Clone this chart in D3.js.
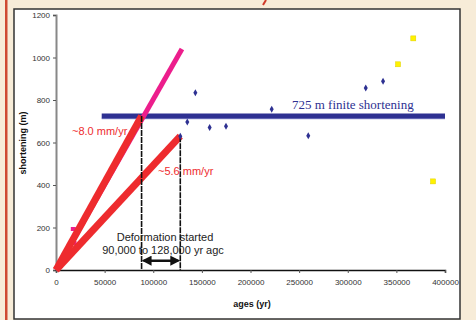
<!DOCTYPE html>
<html>
<head>
<meta charset="utf-8">
<script src="https://cdn.jsdelivr.net/npm/d3@7"></script>
<style>
body{margin:0;background:#f7ecd8;}
svg{display:block;font-family:Arial,"Liberation Sans",sans-serif;}
</style>
</head>
<body>
<script>
//sample data
var blueAges=[127800,135000,143300,158000,174800,221800,259400,318500,336300],
	blueShort=[629,696,834,671,676,756,632,856,888];
var yellowAges=[351700,367400,387700],
	yellowShort=[968,1090,417];
var pinkAges=[17800,18500],
	pinkShort=[193,127];

//rate lines [age, shortening] end points, all start at origin
var rateLines=[
	{name:"pink",end:[129500,1040],color:"#ec1e8c",width:5},
	{name:"~8.0 mm/yr",end:[88000,725],color:"#ee2b2e",width:7},
	{name:"~5.6 mm/yr",end:[127800,630],color:"#ee2b2e",width:7}
];
var finite=725,
	finiteRange=[47000,400000];
var startAges=[88000,127800];

var xTicks=[0,50000,100000,150000,200000,250000,300000,350000,400000],
	yTicks=[0,200,400,600,800,1000,1200];

var width=476,height=320;

var svg=d3.select("body").append("svg")
	.attr("width",width)
	.attr("height",height);

//page decoration
svg.append("rect").attr("width",width).attr("height",height).attr("fill","#f7ecd8");
svg.append("rect").attr("x",5).attr("y",0).attr("width",2.5).attr("height",height).attr("fill","#cf4a32");
svg.append("line").attr("x1",263).attr("y1",5).attr("x2",266).attr("y2",0)
	.attr("stroke","#cf3a2a").attr("stroke-width",2);

//chart frame
svg.append("rect").attr("x",14).attr("y",9).attr("width",446).attr("height",310)
	.attr("fill","#fff").attr("stroke","#333").attr("stroke-width",1.5);

var x=d3.scaleLinear().domain([0,400000]).range([56,445]);
var y=d3.scaleLinear().domain([0,1200]).range([270,15]);

//y axis
var yAxis=svg.append("g").attr("transform","translate(56,0)")
	.call(d3.axisLeft(y).tickValues(yTicks).tickFormat(d3.format("d")).tickSize(3).tickPadding(3));
yAxis.select(".domain").attr("stroke","#888").attr("stroke-width",2);
yAxis.selectAll(".tick line").attr("stroke","#555");
yAxis.selectAll("text").attr("font-size",8).attr("fill","#333");

//x axis
var xAxis=svg.append("g").attr("transform","translate(0,270)")
	.call(d3.axisBottom(x).tickValues(xTicks).tickFormat(d3.format("d")).tickSize(3).tickPadding(6));
xAxis.select(".domain").attr("stroke","#111").attr("stroke-width",1.5);
xAxis.selectAll(".tick line").attr("stroke","#555");
xAxis.selectAll("text").attr("font-size",8).attr("fill","#333");

//axis titles
svg.append("text").attr("x",252).attr("y",307).attr("text-anchor","middle")
	.attr("font-size",9).attr("font-weight","bold").attr("fill","#111").text("ages (yr)");
svg.append("text").attr("transform","translate(26,143)rotate(-90)").attr("text-anchor","middle")
	.attr("font-size",9).attr("font-weight","bold").attr("fill","#111").text("shortening (m)");

//finite shortening bar
svg.append("line").attr("x1",x(finiteRange[0])).attr("x2",x(finiteRange[1]))
	.attr("y1",y(finite)+2.5).attr("y2",y(finite)+2.5)
	.attr("stroke","#9499d4").attr("stroke-width",1.5);
svg.append("line").attr("x1",x(finiteRange[0])).attr("x2",x(finiteRange[1]))
	.attr("y1",y(finite)).attr("y2",y(finite))
	.attr("stroke","#2e3192").attr("stroke-width",5);
svg.append("text").attr("x",292).attr("y",y(finite)-7)
	.attr("font-family","'Liberation Serif','Times New Roman',serif")
	.attr("font-size",13).attr("fill","#2e3192").text("725 m finite shortening");

//pink points (behind the rate lines)
svg.selectAll(".pink").data(pinkAges).enter().append("rect")
	.attr("class","pink")
	.attr("x",function(d){return x(d)-2.5;})
	.attr("y",function(d,i){return y(pinkShort[i])-2;})
	.attr("width",5).attr("height",4).attr("fill","#ec1e8c");

//rate lines
svg.selectAll(".rate").data(rateLines).enter().append("line")
	.attr("class","rate")
	.attr("x1",x(0)).attr("y1",y(0))
	.attr("x2",function(d){return x(d.end[0]);})
	.attr("y2",function(d){return y(d.end[1]);})
	.attr("stroke",function(d){return d.color;})
	.attr("stroke-width",function(d){return d.width;});

//start of deformation markers
svg.selectAll(".start").data(startAges).enter().append("line")
	.attr("class","start")
	.attr("x1",function(d){return x(d);}).attr("x2",function(d){return x(d);})
	.attr("y1",function(d,i){return y(rateLines[i+1].end[1]);}).attr("y2",y(0))
	.attr("stroke","#111").attr("stroke-width",1.6).attr("stroke-dasharray","6,1");

//double arrow
var defs=svg.append("defs");
defs.append("marker").attr("id","ah").attr("viewBox","0 0 10 10").attr("refX",8).attr("refY",5)
	.attr("markerWidth",4).attr("markerHeight",4).attr("orient","auto-start-reverse")
	.append("path").attr("d","M0,0L10,5L0,10z").attr("fill","#111");
svg.append("line").attr("x1",x(startAges[0])+2).attr("x2",x(startAges[1])-2)
	.attr("y1",y(44)).attr("y2",y(44))
	.attr("stroke","#111").attr("stroke-width",2.5)
	.attr("marker-start","url(#ah)").attr("marker-end","url(#ah)");

svg.append("text").attr("x",165).attr("y",241).attr("text-anchor","middle")
	.attr("font-size",11).attr("fill","#222").text("Deformation started");
svg.append("text").attr("x",163).attr("y",254).attr("text-anchor","middle")
	.attr("font-size",11).attr("fill","#222").text("90,000 to 128,000 yr agc");

//rate labels
svg.append("text").attr("x",72).attr("y",135).attr("font-size",11).attr("fill","#ee2b2e").text("~8.0 mm/yr");
svg.append("text").attr("x",158).attr("y",175).attr("font-size",11).attr("fill","#ee2b2e").text("~5.6 mm/yr");

//blue diamonds
svg.selectAll(".blue").data(blueAges).enter().append("path")
	.attr("class","blue")
	.attr("transform",function(d,i){return "translate("+x(d)+","+y(blueShort[i])+")";})
	.attr("d",d3.symbol().type(d3.symbolDiamond).size(14))
	.attr("fill","#2e3192");

//yellow squares
svg.selectAll(".yellow").data(yellowAges).enter().append("rect")
	.attr("class","yellow")
	.attr("x",function(d){return x(d)-2.5;})
	.attr("y",function(d,i){return y(yellowShort[i])-2.5;})
	.attr("width",5).attr("height",5).attr("fill","#fff200").attr("stroke","#e0d000").attr("stroke-width",0.5);
</script>
</body>
</html>
